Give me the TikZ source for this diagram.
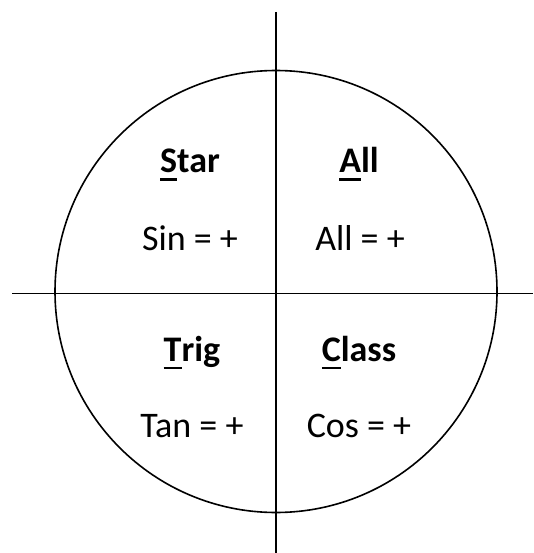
\documentclass[tikz,border=0pt]{standalone}
\usepackage{fontspec}
\setmainfont{Carlito}
\newcommand{\ulfirst}[1]{\setbox0\hbox{#1}\rlap{\rule[-8pt]{\wd0}{2.5pt}}\box0}
\begin{document}
\begin{tikzpicture}[x=1pt,y=-1pt,
  val/.style={anchor=base,font=\fontsize{36}{42}\selectfont},
  head/.style={anchor=base,font=\fontsize{36}{42}\selectfont\bfseries}]
\useasboundingbox (0,0) rectangle (533,553);
\pgfmathsetmacro{\rr}{221}
\coordinate (O) at (276,291.5);
\coordinate (N) at (276,12); \coordinate (S) at (276,553);
\coordinate (W) at (12,293.5); \coordinate (E) at (533,293.5);
\draw[line width=1.6pt] (O) circle (\rr);
\draw[line width=1.4pt] (N) -- (S);
\draw[line width=1.4pt] (W) -- (E);
% quadrants
\node[head] (star) at (190,173) {\ulfirst{S}tar};
\node[val] (sin) at (190,250) {Sin = +};
\node[head] (all) at (359,173) {\ulfirst{A}ll};
\node[val] (allv) at (360,250) {All = +};
\node[head] (trig) at (192,361) {\ulfirst{T}rig};
\node[val] (tan) at (192,437) {Tan = +};
\node[head] (class) at (359,361) {\ulfirst{C}lass};
\node[val] (cos) at (359,437) {Cos = +};
\end{tikzpicture}
\end{document}
